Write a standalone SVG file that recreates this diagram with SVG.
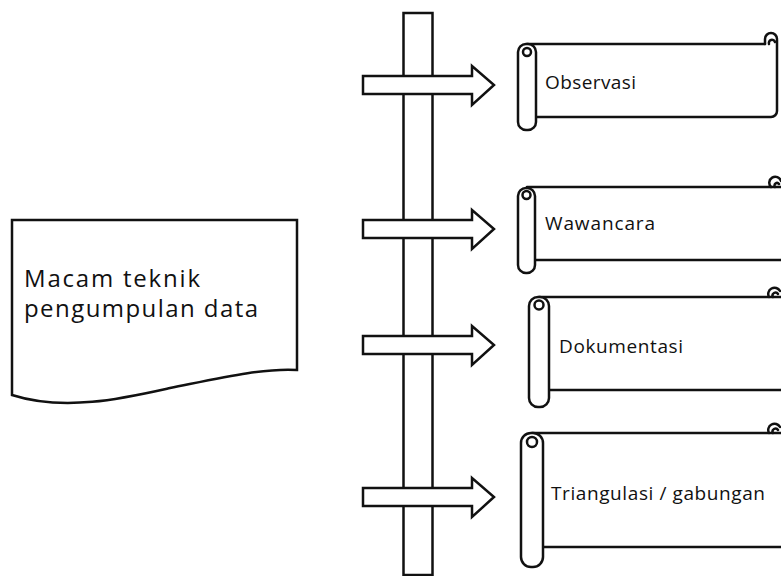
<svg xmlns="http://www.w3.org/2000/svg" width="781" height="576" viewBox="0 0 781 576">
<style>
.ln{fill:none;stroke:#111;stroke-width:2.5;stroke-linejoin:round;stroke-linecap:round}
.wf{fill:#fff;stroke:#111;stroke-width:2.5;stroke-linejoin:miter}
.t{font-family:"Open Sans","Noto Sans",sans-serif;fill:#111}
.st{font-size:19px}
.big{font-size:24px}
</style>
<rect width="781" height="576" fill="#fff"/>
<g id="doc">
<path class="wf" d="M12,220 H297 V370 C262,368 220,378 170,388 C125,398 65,412 12,395 Z"/>
<text class="t big" x="24" y="287" textLength="176" lengthAdjust="spacing">Macam teknik</text>
<text class="t big" x="24" y="317" textLength="234" lengthAdjust="spacing">pengumpulan data</text>
</g>
<g id="connectors">
<rect class="wf" x="403.5" y="13" width="29" height="562"/>
<polygon class="wf" points="363,76 472,76 472,66 494,85 472,105 472,94 363,94"/>
<polygon class="wf" points="363,220 472,220 472,210 494,229 472,249 472,238 363,238"/>
<polygon class="wf" points="363,336 472,336 472,326 494,345 472,365 472,354 363,354"/>
<polygon class="wf" points="363,488 472,488 472,478 494,497 472,517 472,506 363,506"/>
</g>
<g id="s1">
<path class="ln" d="M527,44 H765 M536,117 H771 A6,6 0 0 0 777,111 V40"/>
<path class="ln" d="M765,44 V39 A6,6 0 0 1 777,39 M769,44 A3,3 0 0 1 775,42"/>
<rect class="wf" x="518" y="44" width="18" height="86" rx="8"/>
<circle class="ln" cx="527" cy="52" r="4"/>
<text class="t st" x="545" y="89" textLength="91" lengthAdjust="spacing">Observasi</text>
</g>
<g id="s2">
<path class="ln" d="M527,187 H781 M535,260 H781"/>
<path class="ln" d="M771,187 A6,6 0 1 1 781,181 M775,187 A2.5,2.5 0 0 1 779,184"/>
<rect class="wf" x="518" y="188" width="17" height="85" rx="8"/>
<circle class="ln" cx="526.5" cy="195" r="4"/>
<text class="t st" x="545" y="230" textLength="110" lengthAdjust="spacing">Wawancara</text>
</g>
<g id="s3">
<path class="ln" d="M539,297 H781 M549,390 H781"/>
<path class="ln" d="M769,297 A6,6 0 1 1 780,291 M773,297 A2.5,2.5 0 0 1 778,294"/>
<rect class="wf" x="529" y="297" width="20" height="110" rx="9"/>
<circle class="ln" cx="539" cy="305" r="4.5"/>
<text class="t st" x="559" y="353" textLength="124" lengthAdjust="spacing">Dokumentasi</text>
</g>
<g id="s4">
<path class="ln" d="M532,433 H781 M543,547 H781"/>
<path class="ln" d="M769,433 A6,6 0 1 1 780,427 M773,433 A2.5,2.5 0 0 1 778,430"/>
<rect class="wf" x="521" y="433" width="22" height="134" rx="10"/>
<circle class="ln" cx="532" cy="442" r="5"/>
<text class="t st" x="551" y="500" textLength="214" lengthAdjust="spacing">Triangulasi / gabungan</text>
</g>
</svg>
